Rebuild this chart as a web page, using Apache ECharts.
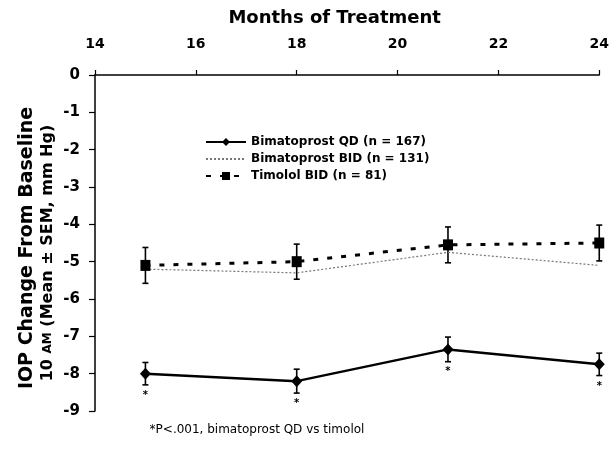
<!DOCTYPE html>
<html>
<head>
<meta charset="utf-8">
<script src="https://cdn.jsdelivr.net/npm/echarts@6/dist/echarts.min.js"></script>
<style>
html,body{margin:0;padding:0;background:#fff;}
#chart{width:612px;height:460px;}
</style>
</head>
<body>
<div id="chart"></div>
<script>
// ---- data ----
var months = [15, 18, 21, 24];
var qdMean = [-8.0, -8.2, -7.35, -7.75];
var qdSem = [0.3, 0.32, 0.33, 0.3];
var bidMean = [-5.2, -5.3, -4.75, -5.1];
var timMean = [-5.1, -5.0, -4.55, -4.5];
var timSem = [0.48, 0.47, 0.48, 0.48];
var xTicks = [14, 16, 18, 20, 22, 24];
var yTicks = [0, -1, -2, -3, -4, -5, -6, -7, -8, -9];
var seriesNames = ['Bimatoprost QD (n = 167)', 'Bimatoprost BID (n = 131)', 'Timolol BID (n = 81)'];
var sigMark = ['*', '*', '*', '*'];

function pairs(xs, ys) { return xs.map(function (x, i) { return [x, ys[i]]; }); }
function bars(xs, m, s) { return xs.map(function (x, i) { return [x, m[i] - s[i], m[i] + s[i]]; }); }

function errRender(params, api) {
  var x = api.value(0);
  var lo = api.coord([x, api.value(1)]);
  var hi = api.coord([x, api.value(2)]);
  var w = 3;
  var st = { stroke: '#000', lineWidth: 1.6 };
  return {
    type: 'group',
    children: [
      { type: 'line', shape: { x1: lo[0], y1: lo[1], x2: hi[0], y2: hi[1] }, style: st },
      { type: 'line', shape: { x1: lo[0] - w, y1: lo[1], x2: lo[0] + w, y2: lo[1] }, style: st },
      { type: 'line', shape: { x1: hi[0] - w, y1: hi[1], x2: hi[0] + w, y2: hi[1] }, style: st }
    ]
  };
}

var BOLD = 'DejaVu Sans';
var chart = echarts.init(document.getElementById('chart'), null, { renderer: 'canvas' });
chart.setOption({
  animation: false,
  backgroundColor: '#fff',
  grid: { left: 95, right: 12, top: 75, bottom: 49 },
  xAxis: {
    type: 'value', position: 'top', min: xTicks[0], max: xTicks[xTicks.length - 1], interval: 2,
    name: 'Months of Treatment', nameLocation: 'middle', nameGap: 48,
    nameTextStyle: { fontFamily: BOLD, fontWeight: 'bold', fontSize: 18, color: '#000', padding: [0, 25, 0, 0] },
    axisLine: { lineStyle: { color: '#000', width: 1.5 } },
    axisTick: { show: true, inside: false, length: 5, lineStyle: { color: '#000', width: 1.2 } },
    axisLabel: { margin: 24, fontFamily: BOLD, fontWeight: 'bold', fontSize: 14, color: '#000' },
    splitLine: { show: false }
  },
  yAxis: {
    type: 'value', min: yTicks[yTicks.length - 1], max: yTicks[0], interval: 1,
    axisLine: { show: true, lineStyle: { color: '#000', width: 1.5 } },
    axisTick: { show: true, inside: false, length: 6, lineStyle: { color: '#000', width: 1.2 } },
    axisLabel: { margin: 15, fontFamily: BOLD, fontWeight: 'bold', fontSize: 15, color: '#000' },
    splitLine: { show: false }
  },
  legend: {
    orient: 'vertical', left: 200, top: 131, itemWidth: 40, itemHeight: 10, itemGap: 5,
    data: seriesNames,
    textStyle: { fontFamily: BOLD, fontWeight: 'bold', fontSize: 12, color: '#000' }
  },
  graphic: [
    { type: 'text', x: 27, y: 248, rotation: Math.PI / 2,
      style: { text: 'IOP Change From Baseline', font: 'bold 19px "DejaVu Sans"', fill: '#000', textAlign: 'center', textVerticalAlign: 'middle' } },
    { type: 'text', x: 48, y: 253, rotation: Math.PI / 2,
      style: { text: '10 {sc|AM} (Mean ± SEM, mm Hg)', font: 'bold 16px "DejaVu Sans"', fill: '#000', textAlign: 'center', textVerticalAlign: 'middle',
        rich: { sc: { fontFamily: 'DejaVu Sans', fontWeight: 'bold', fontSize: 12, fill: '#000' } } } },
    { type: 'text', x: 257, y: 430,
      style: { text: '*P<.001, bimatoprost QD vs timolol', font: '12px "DejaVu Sans"', fill: '#000', textAlign: 'center', textVerticalAlign: 'middle' } }
  ],
  series: [
    { type: 'custom', name: 'qdErr', renderItem: errRender, data: bars(months, qdMean, qdSem), z: 1, silent: true },
    { type: 'custom', name: 'timErr', renderItem: errRender, data: bars(months, timMean, timSem), z: 1, silent: true },
    {
      name: seriesNames[1], type: 'line', data: pairs(months, bidMean), symbol: 'none', z: 2,
      lineStyle: { color: '#777', width: 1.2, type: [2, 2] }, itemStyle: { color: 'rgba(0,0,0,0)' }
    },
    {
      name: seriesNames[2], type: 'line', data: pairs(months, timMean), symbol: 'rect', symbolSize: [10, 11], z: 3,
      lineStyle: { color: '#000', width: 3, type: [5, 9], cap: 'butt' }, itemStyle: { color: '#000' }
    },
    {
      name: seriesNames[0], type: 'line', data: pairs(months, qdMean), symbol: 'diamond', symbolSize: [11, 12], z: 4,
      lineStyle: { color: '#000', width: 2.5 }, itemStyle: { color: '#000' },
      label: { show: true, position: 'bottom', distance: 11, fontSize: 10, fontWeight: 'bold', fontFamily: 'DejaVu Sans', color: '#000',
        formatter: function (p) { return sigMark[p.dataIndex]; } }
    }
  ]
});
</script>
</body>
</html>
